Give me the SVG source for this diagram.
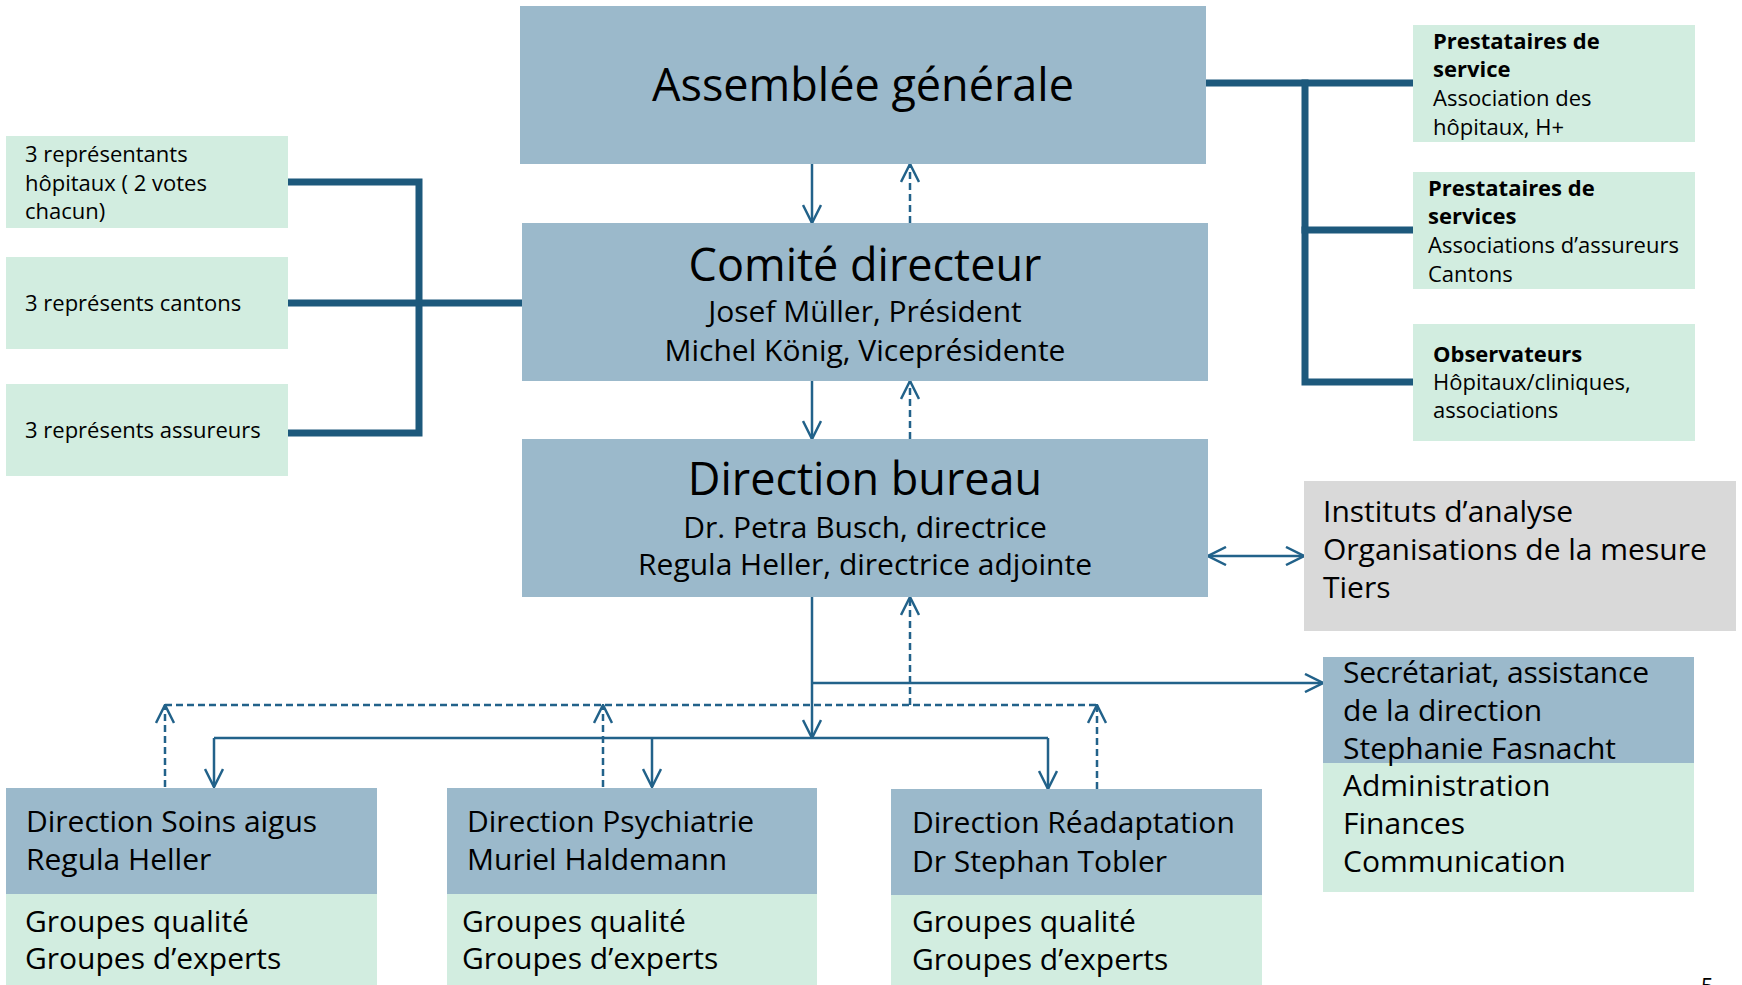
<svg xmlns="http://www.w3.org/2000/svg" width="1742" height="985" viewBox="0 0 1742 985">
<style>
.blue{fill:#9bb9cb}
.green{fill:#d2ede0}
.grey{fill:#d9d9d9}
text{font-family:"Open Sans","Noto Sans","DejaVu Sans",sans-serif;fill:#000}
.t22{font-size:22px}
.b22{font-size:22px;font-weight:bold}
.t30{font-size:30px}
.t45{font-size:45px}
.thick{stroke:#1d597c;stroke-width:7;fill:none;stroke-linecap:square}
.thin{stroke:#22628a;stroke-width:2.5;fill:none}
.dash{stroke:#22628a;stroke-width:2.5;fill:none;stroke-dasharray:7 4}
</style>
<defs>
<marker id="arr" viewBox="0 0 20 20" refX="19" refY="10" markerWidth="20" markerHeight="20" markerUnits="userSpaceOnUse" orient="auto-start-reverse">
<path d="M1,1 L19,10 L1,19" fill="none" stroke="#22628a" stroke-width="2.5"/>
</marker>
</defs>
<rect width="1742" height="985" fill="#ffffff"/>

<g id="connectors">
<path class="thick" d="M288,182 H419 V433 H288"/>
<path class="thick" d="M288,303 H522"/>
<path class="thick" d="M1206,83 H1413"/>
<path class="thick" d="M1305,83 V382 H1413"/>
<path class="thick" d="M1305,230 H1413"/>
<path class="thin" d="M812,164 V223" marker-end="url(#arr)"/>
<path class="dash" d="M910,223 V164" marker-end="url(#arr)"/>
<path class="thin" d="M812,381 V439" marker-end="url(#arr)"/>
<path class="dash" d="M910,439 V381" marker-end="url(#arr)"/>
<path class="thin" d="M812,597 V738" marker-end="url(#arr)"/>
<path class="thin" d="M812,683 H1323" marker-end="url(#arr)"/>
<path class="thin" d="M214,738 H1048"/>
<path class="thin" d="M214,738 V787" marker-end="url(#arr)"/>
<path class="thin" d="M652,738 V787" marker-end="url(#arr)"/>
<path class="thin" d="M1048,738 V789" marker-end="url(#arr)"/>
<path class="dash" d="M165,705 H1097"/>
<path class="dash" d="M165,787 V705" marker-end="url(#arr)"/>
<path class="dash" d="M603,787 V705" marker-end="url(#arr)"/>
<path class="dash" d="M1097,789 V705" marker-end="url(#arr)"/>
<path class="dash" d="M910,705 V597" marker-end="url(#arr)"/>
<path class="thin" d="M1208,556 H1304" marker-start="url(#arr)" marker-end="url(#arr)"/>
</g>

<g id="assemblee">
<rect class="blue" x="520" y="6" width="686" height="158"/>
<text class="t45" x="863" y="101" text-anchor="middle">Assemblée générale</text>
</g>

<g id="comite">
<rect class="blue" x="522" y="223" width="686" height="158"/>
<text class="t45" x="865" y="281" text-anchor="middle">Comité directeur</text>
<text class="t30" x="865" y="322" text-anchor="middle">Josef Müller, Président</text>
<text class="t30" x="865" y="361" text-anchor="middle">Michel König, Viceprésidente</text>
</g>

<g id="bureau">
<rect class="blue" x="522" y="439" width="686" height="158"/>
<text class="t45" x="865" y="495" text-anchor="middle">Direction bureau</text>
<text class="t30" x="865" y="538" text-anchor="middle">Dr. Petra Busch, directrice</text>
<text class="t30" x="865" y="575" text-anchor="middle">Regula Heller, directrice adjointe</text>
</g>

<g id="rep-hopitaux">
<rect class="green" x="6" y="136" width="282" height="92"/>
<text class="t22" x="25" y="162">3 représentants</text>
<text class="t22" x="25" y="191">hôpitaux ( 2 votes</text>
<text class="t22" x="25" y="219">chacun)</text>
</g>

<g id="rep-cantons">
<rect class="green" x="6" y="257" width="282" height="92"/>
<text class="t22" x="25" y="311">3 représents cantons</text>
</g>

<g id="rep-assureurs">
<rect class="green" x="6" y="384" width="282" height="92"/>
<text class="t22" x="25" y="438">3 représents assureurs</text>
</g>

<g id="prest-service">
<rect class="green" x="1413" y="25" width="282" height="117"/>
<text class="b22" x="1433" y="49">Prestataires de</text>
<text class="b22" x="1433" y="77">service</text>
<text class="t22" x="1433" y="106">Association des</text>
<text class="t22" x="1433" y="135">hôpitaux, H+</text>
</g>

<g id="prest-services">
<rect class="green" x="1413" y="172" width="282" height="117"/>
<text class="b22" x="1428" y="196">Prestataires de</text>
<text class="b22" x="1428" y="224">services</text>
<text class="t22" x="1428" y="253">Associations d’assureurs</text>
<text class="t22" x="1428" y="282">Cantons</text>
</g>

<g id="observateurs">
<rect class="green" x="1413" y="324" width="282" height="117"/>
<text class="b22" x="1433" y="362">Observateurs</text>
<text class="t22" x="1433" y="390">Hôpitaux/cliniques,</text>
<text class="t22" x="1433" y="418">associations</text>
</g>

<g id="instituts">
<rect class="grey" x="1304" y="481" width="432" height="150"/>
<text class="t30" x="1323" y="522">Instituts d’analyse</text>
<text class="t30" x="1323" y="560">Organisations de la mesure</text>
<text class="t30" x="1323" y="598">Tiers</text>
</g>

<g id="secretariat">
<rect class="blue" x="1323" y="657" width="371" height="106"/>
<rect class="green" x="1323" y="763" width="371" height="129"/>
<text class="t30" x="1343" y="683" textLength="306">Secrétariat, assistance</text>
<text class="t30" x="1343" y="721">de la direction</text>
<text class="t30" x="1343" y="759">Stephanie Fasnacht</text>
<text class="t30" x="1343" y="796">Administration</text>
<text class="t30" x="1343" y="834">Finances</text>
<text class="t30" x="1343" y="872">Communication</text>
</g>

<g id="soins-aigus">
<rect class="blue" x="6" y="788" width="371" height="106"/>
<rect class="green" x="6" y="894" width="371" height="91"/>
<text class="t30" x="26" y="832">Direction Soins aigus</text>
<text class="t30" x="26" y="870">Regula Heller</text>
<text class="t30" x="25" y="932">Groupes qualité</text>
<text class="t30" x="25" y="969">Groupes d’experts</text>
</g>

<g id="psychiatrie">
<rect class="blue" x="447" y="788" width="370" height="106"/>
<rect class="green" x="447" y="894" width="370" height="91"/>
<text class="t30" x="467" y="832">Direction Psychiatrie</text>
<text class="t30" x="467" y="870">Muriel Haldemann</text>
<text class="t30" x="462" y="932">Groupes qualité</text>
<text class="t30" x="462" y="969">Groupes d’experts</text>
</g>

<g id="readaptation">
<rect class="blue" x="891" y="789" width="371" height="106"/>
<rect class="green" x="891" y="895" width="371" height="90"/>
<text class="t30" x="912" y="833">Direction Réadaptation</text>
<text class="t30" x="912" y="872">Dr Stephan Tobler</text>
<text class="t30" x="912" y="932">Groupes qualité</text>
<text class="t30" x="912" y="970">Groupes d’experts</text>
</g>

<text class="t22" x="1701" y="994">5</text>
</svg>
